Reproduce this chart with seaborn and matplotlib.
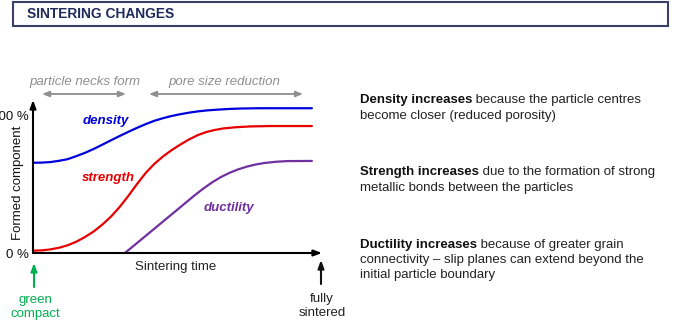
import numpy as np
import pandas as pd
import matplotlib
matplotlib.use("Agg")
import matplotlib.pyplot as plt
from matplotlib.patches import Rectangle
import seaborn as sns

# ---------------- data ----------------
density_t = [0, 3, 6, 9, 12, 15, 18, 21, 24, 27, 30, 33, 36, 39, 42, 45, 48, 51, 54, 57, 60, 64, 68, 72, 78, 96.5]
density_v = [65.4, 65.5, 65.9, 66.8, 68.0, 70.2, 72.6, 75.4, 78.5, 81.7, 84.8, 87.8, 90.7, 93.4, 95.8, 97.7, 99.3,
             100.6, 101.7, 102.6, 103.3, 103.9, 104.4, 104.7, 104.9, 104.9]

strength_t = [0, 3, 6, 9, 12, 15, 18, 21, 24, 27, 30, 33, 36, 39, 42, 45, 48, 51, 54, 57, 60, 63, 66, 70, 75, 82, 96.5]
strength_v = [1.7, 1.9, 2.6, 3.8, 5.6, 8.2, 11.6, 15.6, 20.6, 26.4, 33.4, 41.4, 50.0, 58.0, 64.6, 70.0, 74.6,
              78.6, 82.3, 85.4, 87.7, 89.2, 90.3, 91.1, 91.7, 92.0, 92.0]

ductility_t = [31.8, 35, 38, 41, 44, 47, 50, 53, 56, 59, 62, 65, 68, 71, 74, 77, 80, 84, 88, 96.5]
ductility_v = [0, 5.5, 10.7, 15.9, 21.1, 26.3, 31.5, 36.7, 41.9, 46.8, 51.2, 55.0, 58.1, 60.6, 62.6, 64.1, 65.2,
               66.1, 66.6, 66.7]

series_names = ["density", "strength", "ductility"]
series_colors = ["#0000dd", "#e80000", "#7030a0"]
ytick_vals = [0, 100]
ytick_labels = ["0 %", "100 %"]
phase_labels = ["particle necks form", "pore size reduction"]

notes = [
    ("Density increases", [" because the particle centres", "become closer (reduced porosity)"]),
    ("Strength increases", [" due to the formation of strong", "metallic bonds between the particles"]),
    ("Ductility increases", [" because of greater grain", "connectivity \u2013 slip planes can extend beyond the",
                             "initial particle boundary"]),
]

df = pd.concat([
    pd.DataFrame({"t": density_t, "v": density_v, "series": "density"}),
    pd.DataFrame({"t": strength_t, "v": strength_v, "series": "strength"}),
    pd.DataFrame({"t": ductility_t, "v": ductility_v, "series": "ductility"}),
], ignore_index=True)

# ---------------- style ----------------
sns.set_theme(style="white")
plt.rcParams["font.family"] = ["Liberation Sans", "DejaVu Sans"]

W, H = 685, 330
fig = plt.figure(figsize=(W / 100, H / 100), dpi=100)
fig.patch.set_facecolor("white")

def fx(px):
    return px / W

def fy(py):
    return 1 - py / H

# axes: x 0..100 -> px 33..322 ; y 0 -> px 253, 100 -> px 115
ax_l, ax_r, ax_b, ax_t = 33, 322, 253, 100
ax = fig.add_axes([fx(ax_l), fy(ax_b), (ax_r - ax_l) / W, (ax_b - ax_t) / H])
ax.set_xlim(0, 100)
ax.set_ylim(0, (ax_b - ax_t) / 1.38)
ax.set_facecolor("none")

sns.lineplot(data=df, x="t", y="v", hue="series", hue_order=series_names,
             palette=dict(zip(series_names, series_colors)), estimator=None,
             sort=False, linewidth=1.6, legend=False, ax=ax)
for ln in ax.lines:
    ln.set_solid_capstyle("round")
    ln.set_solid_joinstyle("round")

for s in ax.spines.values():
    s.set_visible(False)

# axis arrows
arrow_style = "-|>,head_length=0.4,head_width=0.15"
ax.annotate("", xy=(1.0, 0), xytext=(0, 0), xycoords="axes fraction",
            arrowprops=dict(arrowstyle=arrow_style, color="black", lw=1.5, shrinkA=0, shrinkB=0),
            annotation_clip=False)
ax.annotate("", xy=(0, 1.0), xytext=(0, 0), xycoords="axes fraction",
            arrowprops=dict(arrowstyle=arrow_style, color="black", lw=1.5, shrinkA=0, shrinkB=0),
            annotation_clip=False)

ax.set_xticks([])
ax.set_yticks(ytick_vals)
ax.set_yticklabels(ytick_labels, fontsize=9.5, color="#111111")
ax.tick_params(axis="y", length=0, pad=3)

ax.set_xlabel("Sintering time", fontsize=9.5, color="#222222")
ax.xaxis.set_label_coords((176 - ax_l) / (ax_r - ax_l), (ax_b - 267) / (ax_b - ax_t))
ax.xaxis.label.set_va("center")
ax.set_ylabel("Formed component", fontsize=9.5, color="#111111")
ax.yaxis.set_label_coords((18 - ax_l) / (ax_r - ax_l), (ax_b - 183) / (ax_b - ax_t))
ax.yaxis.label.set_va("center")

def dv(py):
    return (ax_b - py) / 1.38

def dt(px):
    return (px - ax_l) / 2.89

# curve labels
lab_pos = [(106, 121), (108, 178), (229, 208)]
for name, col, (px, py) in zip(series_names, series_colors, lab_pos):
    ax.text(dt(px), dv(py), name, color=col, fontsize=9.5, fontweight="bold",
            fontstyle="italic", ha="center", va="center")

# phase annotations
gray = "#8f8f8f"
phase_text_pos = [(85, 82), (224, 82)]
phase_arrows = [(42, 126), (149, 303)]
for lab, (px, py), (a0, a1) in zip(phase_labels, phase_text_pos, phase_arrows):
    ax.text(dt(px), dv(py), lab, color=gray, fontsize=9.5, fontstyle="italic",
            ha="center", va="center", clip_on=False)
    ax.annotate("", xy=(dt(a1), dv(94)), xytext=(dt(a0), dv(94)),
                arrowprops=dict(arrowstyle="<|-|>,head_length=0.35,head_width=0.14", color=gray, lw=1.3,
                                shrinkA=0, shrinkB=0), annotation_clip=False)

# start / end markers
green = "#00b050"
ax.annotate("", xy=(dt(34), dv(263)), xytext=(dt(34), dv(287)),
            arrowprops=dict(arrowstyle=arrow_style, color=green, lw=1.5, shrinkA=0, shrinkB=0),
            annotation_clip=False)
ax.text(dt(35), dv(307), "green\ncompact", color=green, fontsize=9.5, ha="center", va="center",
        linespacing=1.15, clip_on=False)
ax.annotate("", xy=(dt(321), dv(260)), xytext=(dt(321), dv(284)),
            arrowprops=dict(arrowstyle=arrow_style, color="#111111", lw=1.5, shrinkA=0, shrinkB=0),
            annotation_clip=False)
ax.text(dt(322), dv(306), "fully\nsintered", color="#222222", fontsize=9.5, ha="center", va="center",
        linespacing=1.15, clip_on=False)

# title bar
fig.add_artist(Rectangle((fx(13), fy(26)), (668 - 13) / W, (26 - 2) / H, transform=fig.transFigure,
                         facecolor="white", edgecolor="#3a4068", lw=1.5))
fig.text(fx(27), fy(14.5), "SINTERING CHANGES", fontsize=9.9, fontweight="bold", color="#1f2a5c",
         va="center", ha="left")

# right-hand notes
line_y = [[100, 116.5], [172, 188], [245, 260, 275]]
for (bold, rest), ys in zip(notes, line_y):
    t1 = fig.text(fx(360), fy(ys[0]), bold, fontsize=9.5, fontweight="bold", color="#111111",
                  ha="left", va="center")
    ax.annotate(rest[0], xy=(1, 0.5), xycoords=t1, fontsize=9.5, color="#222222",
                ha="left", va="center", annotation_clip=False)
    for line, yy in zip(rest[1:], ys[1:]):
        fig.text(fx(360), fy(yy), line, fontsize=9.5, color="#222222", ha="left", va="center")

fig.savefig("out.png", dpi=100, facecolor="white")
